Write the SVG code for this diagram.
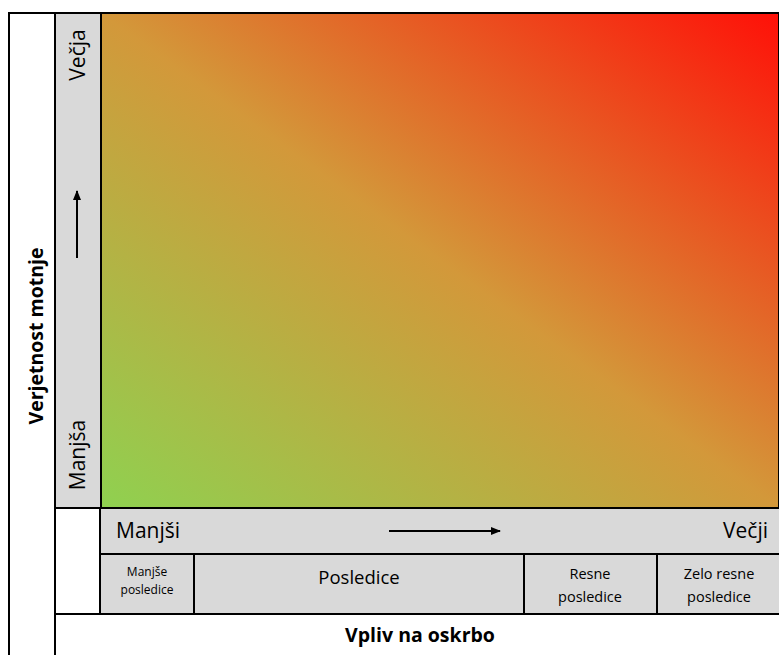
<svg xmlns="http://www.w3.org/2000/svg" width="779" height="655" viewBox="0 0 779 655">
<defs>
<linearGradient id="g" x1="0" y1="1" x2="1" y2="0">
<stop offset="0" stop-color="#8FD150"/>
<stop offset="0.5" stop-color="#D3983A"/>
<stop offset="1" stop-color="#FF1008"/>
</linearGradient>
<marker id="ah" markerWidth="10" markerHeight="8" refX="9" refY="4" orient="auto" markerUnits="userSpaceOnUse">
<path d="M0,0 L10,4 L0,8 Z" fill="#000"/>
</marker>
<style>
.cell{fill:#D9D9D9;stroke:#000;stroke-width:2}
.t{font-family:"Open Sans","Liberation Sans",sans-serif;fill:#000}
.b{font-family:"Open Sans","Liberation Sans",sans-serif;font-weight:bold;fill:#000}
.ln{stroke:#000;stroke-width:2;fill:none}
</style>
</defs>
<rect x="0" y="0" width="779" height="655" fill="#fff"/>
<g id="outer">
<path class="ln" d="M9,655 L9,13 L779,13"/>
<line class="ln" x1="55" y1="13" x2="55" y2="655"/>
</g>
<g id="yaxis-title">
<text class="b" font-size="19.5" text-anchor="middle" transform="translate(43,336) rotate(-90)">Verjetnost motnje</text>
</g>
<g id="yaxis">
<rect class="cell" x="55" y="13" width="46" height="495"/>
<text class="t" font-size="21" text-anchor="middle" transform="translate(85,55) rotate(-90)">Večja</text>
<text class="t" font-size="21" text-anchor="middle" transform="translate(85,455) rotate(-90)">Manjša</text>
</g>
<g id="matrix">
<rect x="101" y="13" width="678" height="495" fill="url(#g)" stroke="#000" stroke-width="2"/>
</g>
<g id="xaxis">
<rect class="cell" x="100" y="508" width="680" height="46"/>
<text class="t" font-size="21" x="116" y="538">Manjši</text>
<text class="t" font-size="21" x="768" y="538" text-anchor="end">Večji</text>
</g>
<g id="cat1">
<rect class="cell" x="100" y="554" width="94" height="60"/>
<text class="t" font-size="12" text-anchor="middle" x="147" y="576">Manjše</text>
<text class="t" font-size="12" text-anchor="middle" x="147" y="594">posledice</text>
</g>
<g id="cat2">
<rect class="cell" x="194" y="554" width="330" height="60"/>
<text class="t" font-size="18.5" text-anchor="middle" x="359" y="584">Posledice</text>
</g>
<g id="cat3">
<rect class="cell" x="524" y="554" width="133" height="60"/>
<text class="t" font-size="14.5" text-anchor="middle" x="590" y="579">Resne</text>
<text class="t" font-size="14.5" text-anchor="middle" x="590" y="602">posledice</text>
</g>
<g id="cat4">
<rect class="cell" x="657" y="554" width="123" height="60"/>
<text class="t" font-size="14.5" text-anchor="middle" x="719" y="579">Zelo resne</text>
<text class="t" font-size="14.5" text-anchor="middle" x="719" y="602">posledice</text>
</g>
<g id="xaxis-title">
<line class="ln" x1="55" y1="614" x2="779" y2="614"/>
<text class="b" font-size="19.5" text-anchor="middle" x="420" y="642">Vpliv na oskrbo</text>
</g>
<g id="connectors">
<line class="ln" x1="77" y1="258" x2="77" y2="191" marker-end="url(#ah)"/>
<line class="ln" x1="389" y1="531" x2="500" y2="531" marker-end="url(#ah)"/>
</g>
</svg>
